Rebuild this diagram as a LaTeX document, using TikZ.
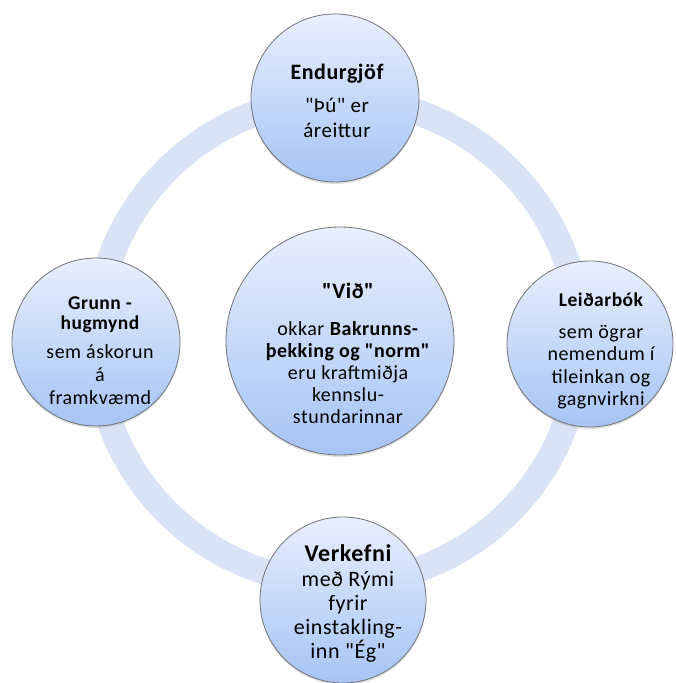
\documentclass[tikz,border=0pt]{standalone}
\usepackage{fontspec}
\setmainfont{Carlito}[Ligatures=TeXOff, LetterSpace=2.5]
\usetikzlibrary{shadows}
\definecolor{ringc}{RGB}{216,228,245}
\definecolor{topc}{RGB}{232,239,253}
\definecolor{botc}{RGB}{166,196,245}
\definecolor{edgec}{RGB}{115,115,120}
\newcommand\ttl[2]{{\bfseries\fontsize{#1}{#1}\selectfont #2}}
\begin{document}
\begin{tikzpicture}[x=1pt,y=1pt,
  bubble/.style={circle, draw=edgec, line width=0.8pt, top color=topc, bottom color=botc,
    inner sep=0pt, drop shadow={opacity=0.25, shadow xshift=0pt, shadow yshift=-2pt}},
  txt/.style={align=center, inner sep=0pt},
  ringline/.style={draw=ringc, line width=26pt}
]
\useasboundingbox (0,0) rectangle (675,683);
\coordinate (c) at (338,342);
\draw[ringline] (c) circle (242);

\node[bubble, minimum size=168pt] (top) at (335,585) {};
\node[bubble, minimum size=168pt] (left) at (96,341) {};
\node[bubble, minimum size=166pt] (right) at (590,339) {};
\node[bubble, minimum size=166pt] (bottom) at (343,83) {};
\node[bubble, minimum size=228pt] (center) at (340,342) {};

\node[txt, font=\fontsize{21}{25}\selectfont] (ttop) at (337,582)
  {\ttl{22}{Endurgjöf}\\[8pt] "Þú" er\\ áreittur};
\node[txt, font=\fontsize{20}{23}\selectfont] (tleft) at (100,332.5)
  {\ttl{19.5}{Grunn -}\\[-3pt] \ttl{19.5}{hugmynd}\\[6pt] sem áskorun\\ á\\ framkvæmd};
\node[txt, font=\fontsize{20}{22.5}\selectfont] (tright) at (601,332)
  {\ttl{19.5}{Leiðarbók}\\[9pt] sem ögrar\\ nemendum í\\ tileinkan og\\ gagnvirkni};
\node[txt, font=\fontsize{22}{24}\selectfont] (tbottom) at (348,79.5)
  {\ttl{24}{Verkefni}\\[1pt] með Rými\\ fyrir\\ einstakling-\\ inn "Ég"};
\node[txt, font=\fontsize{20}{22}\selectfont] (tcenter) at (348,330)
  {\ttl{22}{"Við"}\\[15pt] okkar \textbf{Bakrunns-}\\ \textbf{þekking og "norm"}\\ eru kraftmiðja\\ kennslu-\\ stundarinnar};
\end{tikzpicture}
\end{document}
